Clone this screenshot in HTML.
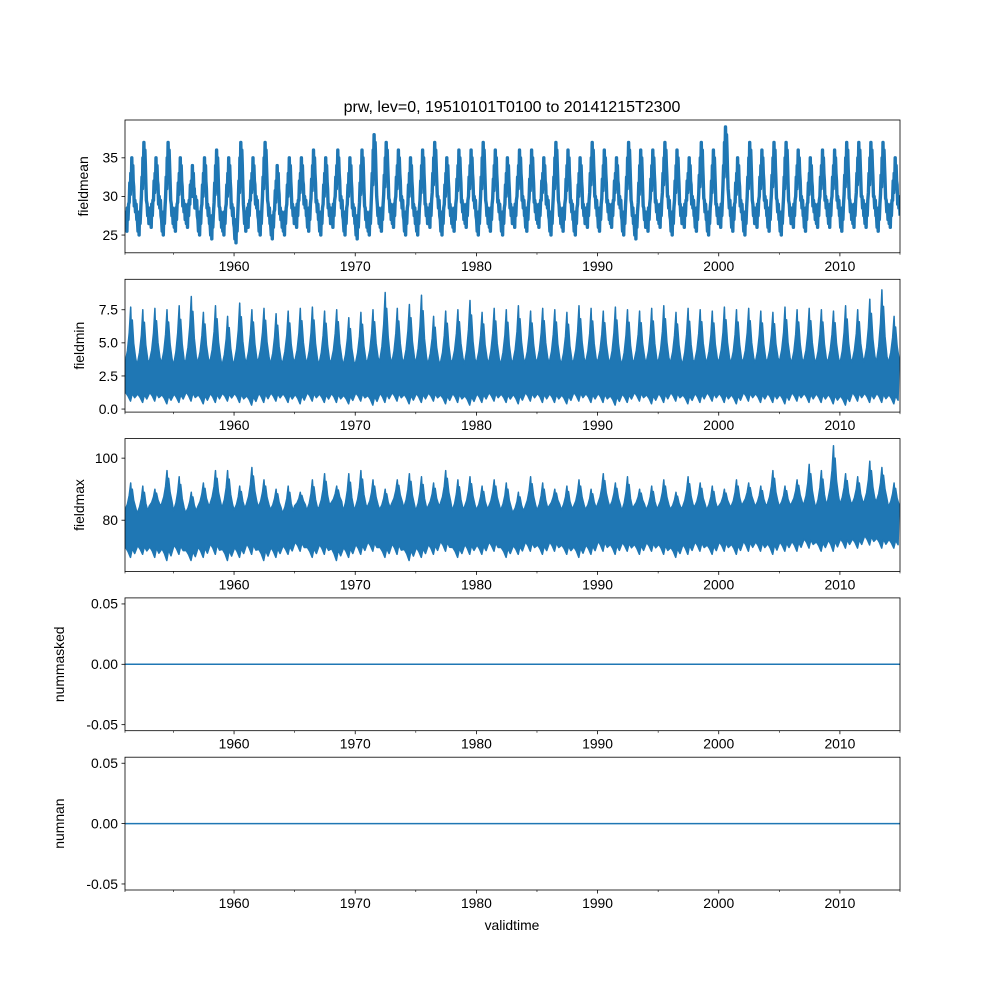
<!DOCTYPE html>
<html><head><meta charset="utf-8">
<style>
html,body{margin:0;padding:0;background:#fff;}
svg{display:block;font-family:"Liberation Sans","DejaVu Sans",sans-serif;}
</style></head>
<body>
<svg id="fig" width="1000" height="1000" viewBox="0 0 1000 1000" xmlns="http://www.w3.org/2000/svg">
<rect width="1000" height="1000" fill="#fff"/>
<text x="512" y="112" font-size="16" text-anchor="middle">prw, lev=0, 19510101T0100 to 20141215T2300</text>
<text x="512" y="930" font-size="13.9" text-anchor="middle">validtime</text>
</svg>
<script>
// Per-year estimates (1951..2014)
const years = [];
for (let y = 1951; y <= 2014; y++) years.push(y);
const meanPeak = [35,37,35,37,35,34,35,36,35,37,35,37,34,35,35,36,35,36,35,36,38,37,36,35,36,37,35,36,36,37,36,35,36,36,35,37,36,35,37,36,35,37,36,36,37,36,35,37,36,39,35,37,36,37,37,36,35,36,36,37,37,37,37,35];
const meanLow  = [25.5,25,26,25,25.5,26,25,24.5,25,24,26,25,24.5,25,26,25.5,25,26,25,24.5,25,25.5,26,25,25,26,25,25.5,26,25,25.5,25,26,25.5,26,25,25.5,25,26,25.5,26,25,24.5,25.5,26,25,26,25.5,25,26,25.5,25,26,25.5,25,26,25.5,26,26,25.5,26,26,25.5,26];
const minPeak  = [7.7,7.5,7.6,7.5,7.8,8.5,7.3,7.8,7.0,8.0,7.5,7.6,7.2,7.4,7.6,7.7,7.4,7.5,6.9,7.3,7.5,8.8,7.6,7.9,8.6,7.0,7.4,7.5,8.2,7.3,7.6,7.5,7.8,7.4,7.6,7.5,7.3,7.8,7.6,7.4,7.7,7.5,7.4,7.6,7.8,7.3,7.6,7.5,7.4,7.7,7.5,7.6,7.4,7.3,7.7,7.5,7.6,7.5,7.4,7.8,7.5,8.3,9.0,7.0];
const minBand  = [3.8,3.7,3.9,3.8,3.7,4.0,3.8,3.9,3.6,3.9,3.8,4.0,3.7,3.8,3.9,3.8,3.7,3.9,3.6,3.7,3.9,4.0,3.8,3.9,3.9,3.7,3.7,3.9,3.8,3.8,3.8,3.7,3.9,3.8,3.9,3.8,3.7,3.9,3.8,3.9,3.8,3.7,3.9,3.8,3.9,3.8,3.7,3.9,3.8,3.9,3.8,3.9,3.8,3.9,3.9,3.8,3.9,3.8,3.9,3.8,3.9,4.0,4.0,3.8];
const minLow   = [0.6,0.5,0.6,0.4,0.5,0.6,0.4,0.5,0.6,0.5,0.3,0.5,0.6,0.5,0.4,0.6,0.5,0.5,0.4,0.6,0.3,0.5,0.6,0.4,0.5,0.6,0.4,0.5,0.3,0.5,0.6,0.5,0.4,0.6,0.5,0.5,0.4,0.6,0.5,0.5,0.3,0.5,0.6,0.4,0.5,0.6,0.4,0.5,0.6,0.5,0.4,0.6,0.5,0.5,0.4,0.6,0.5,0.5,0.4,0.3,0.6,0.5,0.5,0.4];
const maxPeak  = [92,91,90,96,94,89,92,96,96,91,97,93,90,91,89,93,95,91,95,96,93,90,93,95,94,92,96,93,94,91,93,92,89,94,92,90,91,93,90,95,92,94,90,91,93,89,94,92,91,90,93,92,91,96,91,93,98,96,104,95,94,99,97,92];
const maxBand  = [84,83,85,86,84,83,85,86,85,84,86,85,84,83,85,84,85,86,84,85,85,84,86,85,84,85,86,84,85,84,85,84,83,85,84,85,84,85,84,86,85,84,85,84,85,84,85,85,84,85,85,86,85,86,85,86,86,85,88,86,86,87,87,85];
const maxLow   = [68,69,68,67,69,67,68,69,67,68,69,67,68,69,70,68,69,67,68,69,70,68,69,67,68,69,70,68,69,69,70,68,69,70,69,70,69,68,69,70,69,70,69,70,69,68,69,70,69,70,69,70,70,69,70,70,71,70,70,71,71,72,71,71];
const xTicks = [1960,1970,1980,1990,2000,2010];
const xMinor = [1955,1965,1975,1985,1995,2005];

const NS = "http://www.w3.org/2000/svg";
const svg = document.getElementById('fig');
const L = 125, R = 900, X0 = 1951.0, X1 = 2014.96;
const xs = v => L + (v - X0) / (X1 - X0) * (R - L);
const C = '#1f77b4';
function mk(tag, attrs, parent) {
  const e = document.createElementNS(NS, tag);
  for (const k in attrs) e.setAttribute(k, attrs[k]);
  (parent || svg).appendChild(e);
  return e;
}
const panels = [
  {name:'fieldmean', top:120, lo:22.7, hi:39.9, ticks:[25,30,35], fmt:v=>String(v)},
  {name:'fieldmin', top:279.3, lo:-0.23, hi:9.8, ticks:[0,2.5,5,7.5], fmt:v=>v.toFixed(1)},
  {name:'fieldmax', top:438.6, lo:63.5, hi:106.3, ticks:[80,100], fmt:v=>String(v)},
  {name:'nummasked', top:597.9, lo:-0.055, hi:0.055, ticks:[-0.05,0,0.05], fmt:v=>v.toFixed(2)},
  {name:'numnan', top:757.2, lo:-0.055, hi:0.055, ticks:[-0.05,0,0.05], fmt:v=>v.toFixed(2)}
];
const H = 132.8;
panels.forEach((p, i) => {
  const g = mk('g', {});
  
  
  const ys = v => p.top + H - (v - p.lo) / (p.hi - p.lo) * H;
  const clipId = 'clip' + i;
  const cp = mk('clipPath', {id: clipId}, g);
  mk('rect', {x:L, y:p.top, width:R-L, height:H}, cp);
  const dg = mk('g', {'clip-path': 'url(#' + clipId + ')'}, g);
  if (i === 0) {
    let pts = [];
    years.forEach((y, k) => {
      const lo = meanLow[k], pk = meanPeak[k], md = (lo + pk) / 2;
      pts.push([y+0.02, lo+2],[y+0.07, lo+0.5],[y+0.12, lo+2.5],[y+0.16, lo],[y+0.2, lo+3],[y+0.25, lo+1.5],[y+0.3, lo+3.5],[y+0.35, md-1],[y+0.4, md+1.5],[y+0.44, md],[y+0.48, pk-2],[y+0.52, pk-3.5],[y+0.56, pk],[y+0.6, pk-4],[y+0.64, pk-1],[y+0.68, pk-3],[y+0.72, md+1],[y+0.77, md-1.5],[y+0.82, lo+4],[y+0.87, lo+2.5],[y+0.92, lo+3.5],[y+0.97, lo+1.5]);
    });
    const s = mk('polyline', {points: pts.map(q => xs(q[0]).toFixed(1)+','+ys(q[1]).toFixed(1)).join(' '), fill:'none', stroke:C, 'stroke-width':3.4, 'stroke-linejoin':'round'}, dg);
    
    
  } else if (i === 1 || i === 2) {
    const pk = i === 1 ? minPeak : maxPeak, bd = i === 1 ? minBand : maxBand, lw = i === 1 ? minLow : maxLow;
    let up = [], dn = [];
    years.forEach((y, k) => {
      const b = bd[k];
      up.push([y+0.0, b-0.1*(pk[k]-b)],[y+0.2, b+0.15*(pk[k]-b)],[y+0.35, b+0.5*(pk[k]-b)],[y+0.47, pk[k]],[y+0.52, b+0.6*(pk[k]-b)],[y+0.6, b+0.75*(pk[k]-b)],[y+0.72, b+0.3*(pk[k]-b)],[y+0.88, b]);
      const l = lw[k], m = bd[k];
      dn.push([y+0.05, l+0.2*(m-l)],[y+0.25, l+0.12*(m-l)],[y+0.45, l],[y+0.6, l+0.18*(m-l)],[y+0.8, l+0.08*(m-l)]);
    });
    const all = up.concat(dn.reverse());
    const s = mk('polygon', {points: all.map(q => xs(q[0]).toFixed(1)+','+ys(q[1]).toFixed(1)).join(' '), fill:C, stroke:C, 'stroke-width':1.5, 'stroke-linejoin':'round'}, dg);
    
    
  } else {
    const s = mk('line', {x1:L, x2:R, y1:ys(0), y2:ys(0), stroke:C, 'stroke-width':1.5}, dg);
    
    
  }
  const fr = mk('rect', {x:L, y:p.top, width:R-L, height:H, fill:'none', stroke:'#000', 'stroke-width':0.8}, g);
  
  
  p.ticks.forEach(t => {
    const y = ys(t);
    mk('line', {x1:L-3.5, x2:L, y1:y, y2:y, stroke:'#000', 'stroke-width':0.8}, g);
    const tx = mk('text', {x:L-7, y:y+4.8, 'font-size':13.9, 'text-anchor':'end'}, g);
    tx.textContent = p.fmt(t);
    
    
  });
  const yl = mk('text', {x:0, y:0, 'font-size':13.9, 'text-anchor':'middle', transform:'translate(' + (i >= 3 ? 64 : (i === 0 ? 88 : 84)) + ',' + (p.top + H/2) + ') rotate(-90)'}, g);
  yl.textContent = p.name;
  
  
  const bot = p.top + H;
  xTicks.forEach(t => {
    const x = xs(t);
    mk('line', {x1:x, x2:x, y1:bot, y2:bot+3.5, stroke:'#000', 'stroke-width':0.8}, g);
    const tx = mk('text', {x:x, y:bot+18, 'font-size':13.9, 'text-anchor':'middle'}, g);
    tx.textContent = String(t);
    
    
  });
  xMinor.concat([1951.0, X1]).forEach(t => {
    const x = xs(t);
    mk('line', {x1:x, x2:x, y1:bot, y2:bot+2, stroke:'#000', 'stroke-width':0.6}, g);
  });
});
</script>
</body></html>
